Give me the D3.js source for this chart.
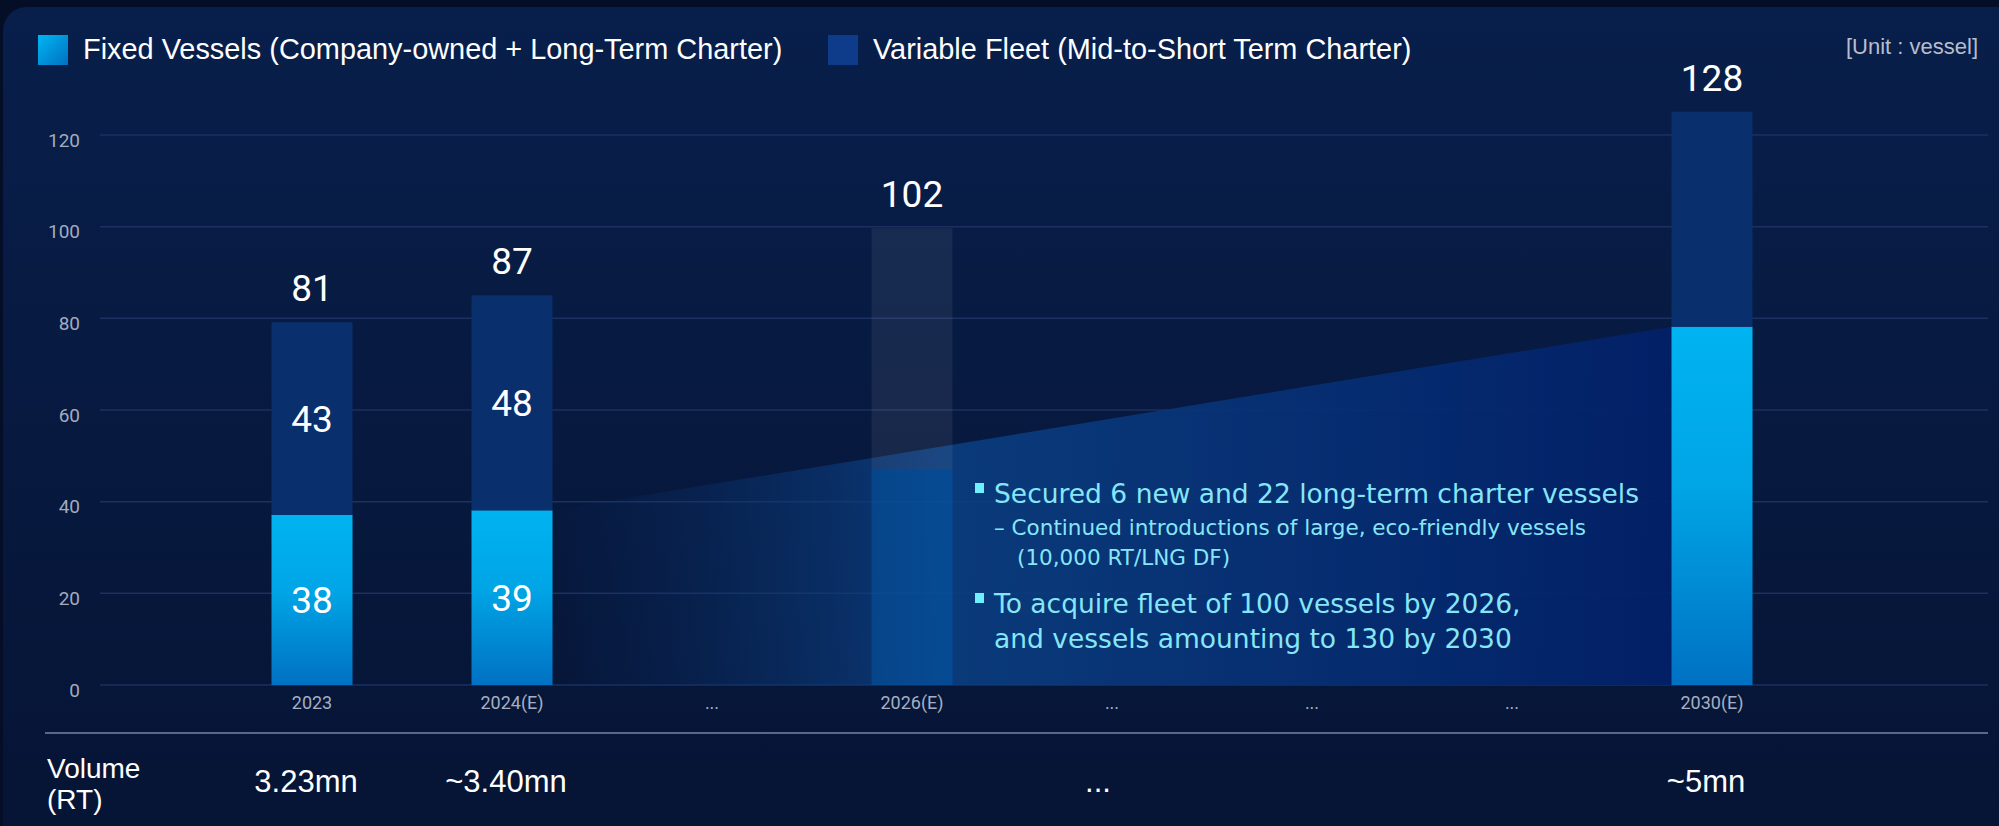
<!DOCTYPE html>
<html>
<head>
<meta charset="utf-8">
<script src="https://cdn.jsdelivr.net/npm/d3@7"></script>
<style>
  html, body { margin: 0; padding: 0; background: #050e27; overflow: hidden; }
  svg { display: block; }
</style>
</head>
<body>
<svg id="chart" width="1999" height="826"></svg>
<script>
// ---------------- DATA ----------------
const categories    = ["2023", "2024(E)", "...", "2026(E)", "...", "...", "...", "2030(E)"];
const fixedVessels  = [38, 39, null, 48, null, null, null, 80];
const variableFleet = [43, 48, null, 54, null, null, null, 48];
const totals        = [81, 87, null, 102, null, null, null, 128];
const yTicks        = [0, 20, 40, 60, 80, 100, 120];
const volumeLabels  = ["3.23mn", "~3.40mn", "...", "~5mn"];
const volumeCats    = [0, 1, 4, 7];
const legendLabels  = ["Fixed Vessels (Company-owned + Long-Term Charter)", "Variable Fleet (Mid-to-Short Term Charter)"];
const unitLabel     = "[Unit : vessel]";
const volumeTitle   = ["Volume", "(RT)"];
const notes = [
  { bullet: true,  text: "Secured 6 new and 22 long-term charter vessels" },
  { bullet: false, text: "– Continued introductions of large, eco-friendly vessels" },
  { bullet: false, text: "(10,000 RT/LNG DF)" },
  { bullet: true,  text: "To acquire fleet of 100 vessels by 2026," },
  { bullet: false, text: "and vessels amounting to 130 by 2030" }
];

// ---------------- SETUP ----------------
const W = 1999, H = 826;
const svg = d3.select("#chart");
const defs = svg.append("defs");

function linGrad(id, attrs, stops) {
  const g = defs.append("linearGradient").attr("id", id);
  Object.entries(attrs).forEach(([k, v]) => g.attr(k, v));
  stops.forEach(s => g.append("stop").attr("offset", s[0]).attr("stop-color", s[1]).attr("stop-opacity", s[2] == null ? 1 : s[2]));
  return g;
}
linGrad("panelGrad", {x1: 0, y1: 0, x2: 0, y2: 1}, [[0, "#081f4b"], [0.5, "#07193f"], [1, "#061434"]]);
linGrad("fixedGrad", {x1: 0, y1: 0, x2: 0, y2: 1}, [[0, "#00b3f1"], [0.45, "#00a5e6"], [1, "#0071c3"]]);
linGrad("swatchGrad", {x1: 0, y1: 0, x2: 1, y2: 1}, [[0, "#00b6f2"], [1, "#0070c2"]]);

// scales
const x = d3.scaleBand().domain(d3.range(categories.length)).range([212, 1812])
  .paddingInner(0.595).paddingOuter(0.2975);
const bw = x.bandwidth();
const yAxisScale = d3.scaleLinear().domain([0, 120]).range([685, 135]);
const yBar = d3.scaleLinear().domain([0, 122.8]).range([685, 135]);

// background panel
svg.append("rect").attr("width", W).attr("height", H).attr("fill", "#050e27");
svg.append("rect").attr("x", 3).attr("y", 7).attr("width", W + 40).attr("height", H + 40)
  .attr("rx", 24).attr("fill", "url(#panelGrad)");

// gridlines
svg.append("g").selectAll("line").data(yTicks).join("line")
  .attr("x1", 100).attr("x2", 1988)
  .attr("y1", d => yAxisScale(d)).attr("y2", d => yAxisScale(d))
  .attr("stroke", "#1c3161").attr("stroke-width", 1.5);

// y axis labels
const yAxisG = svg.append("g").attr("transform", "translate(100,0)")
  .call(d3.axisLeft(yAxisScale).tickValues(yTicks).tickSize(0).tickPadding(20));
yAxisG.select(".domain").remove();
yAxisG.selectAll("text").attr("y", 5)
  .attr("fill", "#a3abbd").style("font-family", "Roboto, 'Liberation Sans', sans-serif").style("font-size", "19px");

// x axis labels
const xAxisG = svg.append("g").attr("transform", "translate(0,685)")
  .call(d3.axisBottom(x).tickFormat(i => categories[i]).tickSize(0).tickPadding(11));
xAxisG.select(".domain").remove();
xAxisG.selectAll("text")
  .attr("fill", "#a7afc0").style("font-family", "Roboto, 'Liberation Sans', sans-serif").style("font-size", "18px");

// rows
const rows = categories.map((c, i) => ({ i, cat: c, fixed: fixedVessels[i], variable: variableFleet[i], total: totals[i] }))
  .filter(d => d.fixed != null);
const stacked = d3.stack().keys(["fixed", "variable"])(rows);
const ghostIndex = 3; // 2026(E) drawn as a translucent target bar

// growth wedge from 2024 fixed top to 2030 fixed top
const r2024 = rows.find(d => d.i === 1), r2030 = rows.find(d => d.i === 7);
const wedgeData = [
  { px: x(r2024.i) + bw, v: r2024.fixed },
  { px: x(r2030.i), v: r2030.fixed }
];
linGrad("wedgeGrad", {gradientUnits: "userSpaceOnUse", x1: wedgeData[0].px, y1: 0, x2: wedgeData[1].px, y2: 0},
  [[0, "#0a3270", 0], [0.12, "#0a3572", 0.3], [0.35, "#0b3f82", 0.88], [0.6, "#073378", 0.92], [1, "#022068", 0.95]]);
svg.append("path").datum(wedgeData)
  .attr("d", d3.area().x(d => d.px).y0(yBar(0)).y1(d => yBar(d.v)))
  .attr("fill", "url(#wedgeGrad)");

// bars
const barG = svg.append("g");
stacked.forEach(series => {
  barG.selectAll(null).data(series).join("rect")
    .attr("x", d => x(d.data.i))
    .attr("width", bw)
    .attr("y", d => yBar(d[1]))
    .attr("height", d => yBar(d[0]) - yBar(d[1]))
    .attr("fill", d => {
      if (d.data.i === ghostIndex) return series.key === "fixed" ? "rgba(0,110,200,0.33)" : "rgba(255,255,255,0.065)";
      return series.key === "fixed" ? "url(#fixedGrad)" : "#0a2f6d";
    });
});

// inner labels (2023 and 2024 bars)
const innerRows = rows.filter(d => d.i === 0 || d.i === 1);
stacked.forEach(series => {
  svg.append("g").selectAll("text").data(series.filter(d => innerRows.includes(d.data))).join("text")
    .attr("x", d => x(d.data.i) + bw / 2)
    .attr("y", d => (yBar(d[0]) + yBar(d[1])) / 2)
    .attr("dy", "0.36em")
    .attr("text-anchor", "middle")
    .attr("fill", "#ffffff")
    .style("font-family", "Roboto, 'Liberation Sans', sans-serif")
    .style("font-size", "37px")
    .text(d => d.data[series.key]);
});

// total labels
svg.append("g").selectAll("text").data(rows).join("text")
  .attr("x", d => x(d.i) + bw / 2)
  .attr("y", d => yBar(d.fixed + d.variable) - 21)
  .attr("text-anchor", "middle")
  .attr("fill", "#ffffff")
  .style("font-family", "Roboto, 'Liberation Sans', sans-serif")
  .style("font-size", "37px")
  .style("font-weight", 400)
  .text(d => d.total);

// legend
const fontUI = "'Liberation Sans', Arial, sans-serif";
const leg = svg.append("g");
const legX = [38, 828];
leg.selectAll("rect").data(legendLabels).join("rect")
  .attr("x", (d, i) => legX[i]).attr("y", 35).attr("width", 30).attr("height", 30)
  .attr("fill", (d, i) => i === 0 ? "url(#swatchGrad)" : "#0f3c8a");
leg.selectAll("text").data(legendLabels).join("text")
  .attr("x", (d, i) => legX[i] + 45).attr("y", 59)
  .attr("fill", "#ffffff").style("font-family", fontUI).style("font-size", "28.9px")
  .text(d => d);

svg.append("text").attr("x", 1978).attr("y", 54).attr("text-anchor", "end")
  .attr("fill", "#b6bdcc").style("font-family", fontUI).style("font-size", "22px")
  .text(unitLabel);

// separator line
svg.append("line").attr("x1", 45).attr("x2", 1988).attr("y1", 733).attr("y2", 733)
  .attr("stroke", "#5b6786").attr("stroke-width", 2);

// volume row
svg.append("g").selectAll("text").data(volumeTitle).join("text")
  .attr("x", 47).attr("y", (d, i) => 778 + i * 31)
  .attr("fill", "#ffffff").style("font-family", fontUI).style("font-size", "28px")
  .text(d => d);
svg.append("g").selectAll("text").data(volumeLabels).join("text")
  .attr("x", (d, i) => x(volumeCats[i]) + bw / 2 - (volumeCats[i] === 4 ? 14 : 6))
  .attr("y", 792)
  .attr("text-anchor", "middle")
  .attr("fill", "#ffffff").style("font-family", fontUI).style("font-size", "31px")
  .text(d => d);

// annotation notes
const noteFont = "'DejaVu Sans', Verdana, sans-serif";
const noteLayout = [
  { x: 994,  y: 503, size: 26.5 },
  { x: 994,  y: 535, size: 21.5 },
  { x: 1017, y: 565, size: 21.5 },
  { x: 994,  y: 613, size: 26.5 },
  { x: 994,  y: 648, size: 26.5 }
];
const noteG = svg.append("g");
noteG.selectAll("text").data(notes).join("text")
  .attr("x", (d, i) => noteLayout[i].x).attr("y", (d, i) => noteLayout[i].y)
  .attr("fill", "#86e6f7").style("font-family", noteFont)
  .style("font-size", (d, i) => noteLayout[i].size + "px")
  .text(d => d.text);
noteG.selectAll("rect").data(notes.map((d, i) => ({ d, i })).filter(o => o.d.bullet)).join("rect")
  .attr("x", 975).attr("y", o => noteLayout[o.i].y - 20).attr("width", 9).attr("height", 10)
  .attr("fill", "#6eefff");
</script>
</body>
</html>
